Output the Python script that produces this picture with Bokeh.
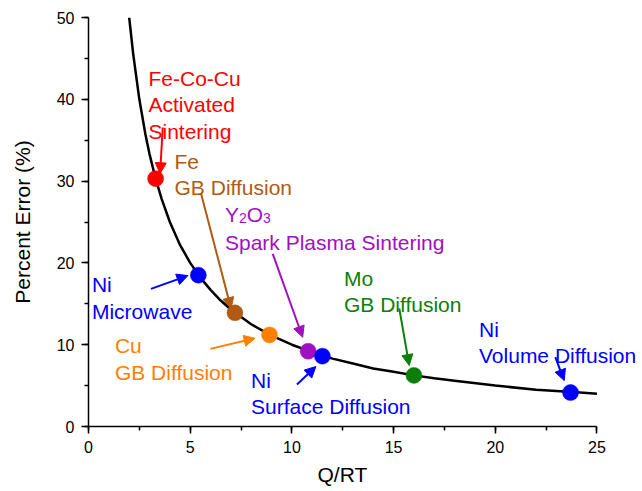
from bokeh.plotting import figure
from bokeh.models import Range1d, Arrow, NormalHead, SingleIntervalTicker, ColumnDataSource, Title
from bokeh.core.properties import value
from bokeh.embed import file_html
from bokeh.resources import INLINE

FONT = "Liberation Sans"

# Curve values
curve_x = [2.0, 2.2, 2.5, 2.8, 3.0, 3.3, 3.6, 4.0, 4.5, 5.0, 5.5, 6.0, 6.5, 7.0, 8.0, 9.0, 10.0,
           11.0, 12.0, 13.0, 14.0, 15.0, 16.0, 17.0, 18.0, 20.0, 22.0, 24.0, 25.0]
curve_y = [50.0, 45.5, 40.0, 35.7, 33.3, 30.3, 27.8, 25.0, 22.2, 20.0, 18.2, 16.7, 15.4, 14.3, 12.5,
           11.1, 10.0, 9.1, 8.3, 7.7, 7.1, 6.7, 6.25, 5.9, 5.6, 5.0, 4.5, 4.2, 4.0]

# Data points
pt_names = ["Fe-Co-Cu", "Ni Microwave", "Fe GB", "Cu GB", "Y2O3", "Ni Surface", "Mo GB", "Ni Volume"]
pt_x = [3.3, 5.4, 7.2, 8.9, 10.8, 11.5, 16.0, 23.7]
pt_y = [30.3, 18.5, 13.9, 11.2, 9.2, 8.6, 6.25, 4.15]
pt_colors = ["#FF0000", "#0000FF", "#B05A14", "#FF8000", "#A010C0", "#0000FF", "#0A800A", "#0000FF"]

# Annotation label lines (baseline start)
lab_text = ["Fe-Co-Cu", "Activated", "Sintering",
            "Fe", "GB Diffusion",
            "Spark Plasma Sintering",
            "Ni", "Microwave",
            "Cu", "GB Diffusion",
            "Ni", "Surface Diffusion",
            "Mo", "GB Diffusion",
            "Ni", "Volume Diffusion"]
lab_x = [2.95, 2.95, 2.95,
         4.23, 4.23,
         6.71,
         0.17, 0.17,
         1.30, 1.30,
         7.99, 7.99,
         12.56, 12.56,
         19.20, 19.20]
lab_y = [42.6, 39.35, 36.1,
         32.35, 29.2,
         22.55,
         17.3, 14.05,
         9.85, 6.6,
         5.65, 2.4,
         18.1, 14.9,
         11.9, 8.65]
lab_colors = ["#FF0000"] * 3 + ["#B05A14"] * 2 + ["#A010C0"] + ["#0000FF"] * 2 + \
             ["#FF8000"] * 2 + ["#0000FF"] * 2 + ["#0A800A"] * 2 + ["#0000FF"] * 2

# Y2O3 formula pieces
chem_text = ["Y", "2", "O", "3"]
chem_x = [6.71, 7.40, 7.78, 8.58]
chem_y = [25.95, 25.45, 25.95, 25.45]
chem_size = ["21px", "14px", "21px", "14px"]

# Arrows: start -> end
arr_x0 = [3.65, 5.53, 9.06, 3.07, 5.99, 10.25, 15.28, 22.95]
arr_y0 = [36.55, 28.5, 21.1, 16.82, 9.49, 5.13, 14.45, 8.47]
arr_x1 = [3.52, 7.01, 10.53, 4.89, 8.19, 11.18, 15.77, 23.39]
arr_y1 = [30.9, 14.41, 10.91, 18.45, 10.79, 7.33, 7.45, 5.62]
arr_colors = ["#FF0000", "#B05A14", "#A010C0", "#0000FF", "#FF8000", "#0000FF", "#0A800A", "#0000FF"]

# x axis runs 0..25; the frame extends further right so that labels are not clipped
X_AXIS_MAX = 25
X_VIEW_MAX = 27.14

p = figure(width=642, height=491, output_backend="svg", toolbar_location=None,
           x_range=Range1d(0, X_VIEW_MAX), y_range=Range1d(0, 50),
           min_border_left=88, min_border_right=2, min_border_top=17, min_border_bottom=65)
p.outline_line_color = None
p.grid.visible = False
p.background_fill_color = "white"
p.border_fill_color = "white"

p.xaxis.ticker = SingleIntervalTicker(interval=5, num_minor_ticks=2)
p.yaxis.ticker = SingleIntervalTicker(interval=10, num_minor_ticks=2)
p.xaxis.bounds = (0, X_AXIS_MAX)
for ax in (p.xaxis, p.yaxis):
    ax.axis_line_width = 1.5
    ax.axis_line_color = "black"
    ax.major_tick_line_color = "black"
    ax.minor_tick_line_color = "black"
    ax.major_tick_line_width = 1.5
    ax.minor_tick_line_width = 1.5
    ax.major_tick_out = 7
    ax.major_tick_in = 0
    ax.minor_tick_out = 4
    ax.minor_tick_in = 0
    ax.major_label_text_font = FONT
    ax.major_label_text_font_size = "16px"
    ax.major_label_text_color = "black"
    ax.axis_label_text_font = FONT
    ax.axis_label_text_font_size = "21px"
    ax.axis_label_text_font_style = "normal"
    ax.axis_label_text_color = "black"
p.yaxis.axis_label = "Percent Error (%)"
p.xaxis.major_label_standoff = 7
p.yaxis.major_label_standoff = 7
p.yaxis.axis_label_standoff = 20

# x axis title, centred under the 0..25 axis span
p.add_layout(Title(text="Q/RT", align="left", offset=229, standoff=10,
                   text_font=FONT, text_font_size="21px", text_font_style="normal",
                   text_color="black"), "below")

p.line(curve_x, curve_y, line_color="black", line_width=2.5)

for x0, y0, x1, y1, c in zip(arr_x0, arr_y0, arr_x1, arr_y1, arr_colors):
    p.add_layout(Arrow(end=NormalHead(size=11, fill_color=c, line_color=c, line_width=1),
                       x_start=x0, y_start=y0, x_end=x1, y_end=y1,
                       line_color=c, line_width=2))

p.scatter(pt_x, pt_y, size=16, fill_color=pt_colors, line_color=pt_colors, line_width=0.5)

lab_src = ColumnDataSource(dict(x=lab_x, y=lab_y, text=lab_text, color=lab_colors))
p.text(x="x", y="y", text="text", source=lab_src, text_color="color",
       text_font=value(FONT), text_font_size="21px",
       text_baseline="alphabetic", text_align="left")

chem_src = ColumnDataSource(dict(x=chem_x, y=chem_y, text=chem_text, size=chem_size))
p.text(x="x", y="y", text="text", source=chem_src, text_color="#A010C0",
       text_font=value(FONT), text_font_size="size",
       text_baseline="alphabetic", text_align="left")

open("out.html", "w").write(file_html(p, INLINE))
